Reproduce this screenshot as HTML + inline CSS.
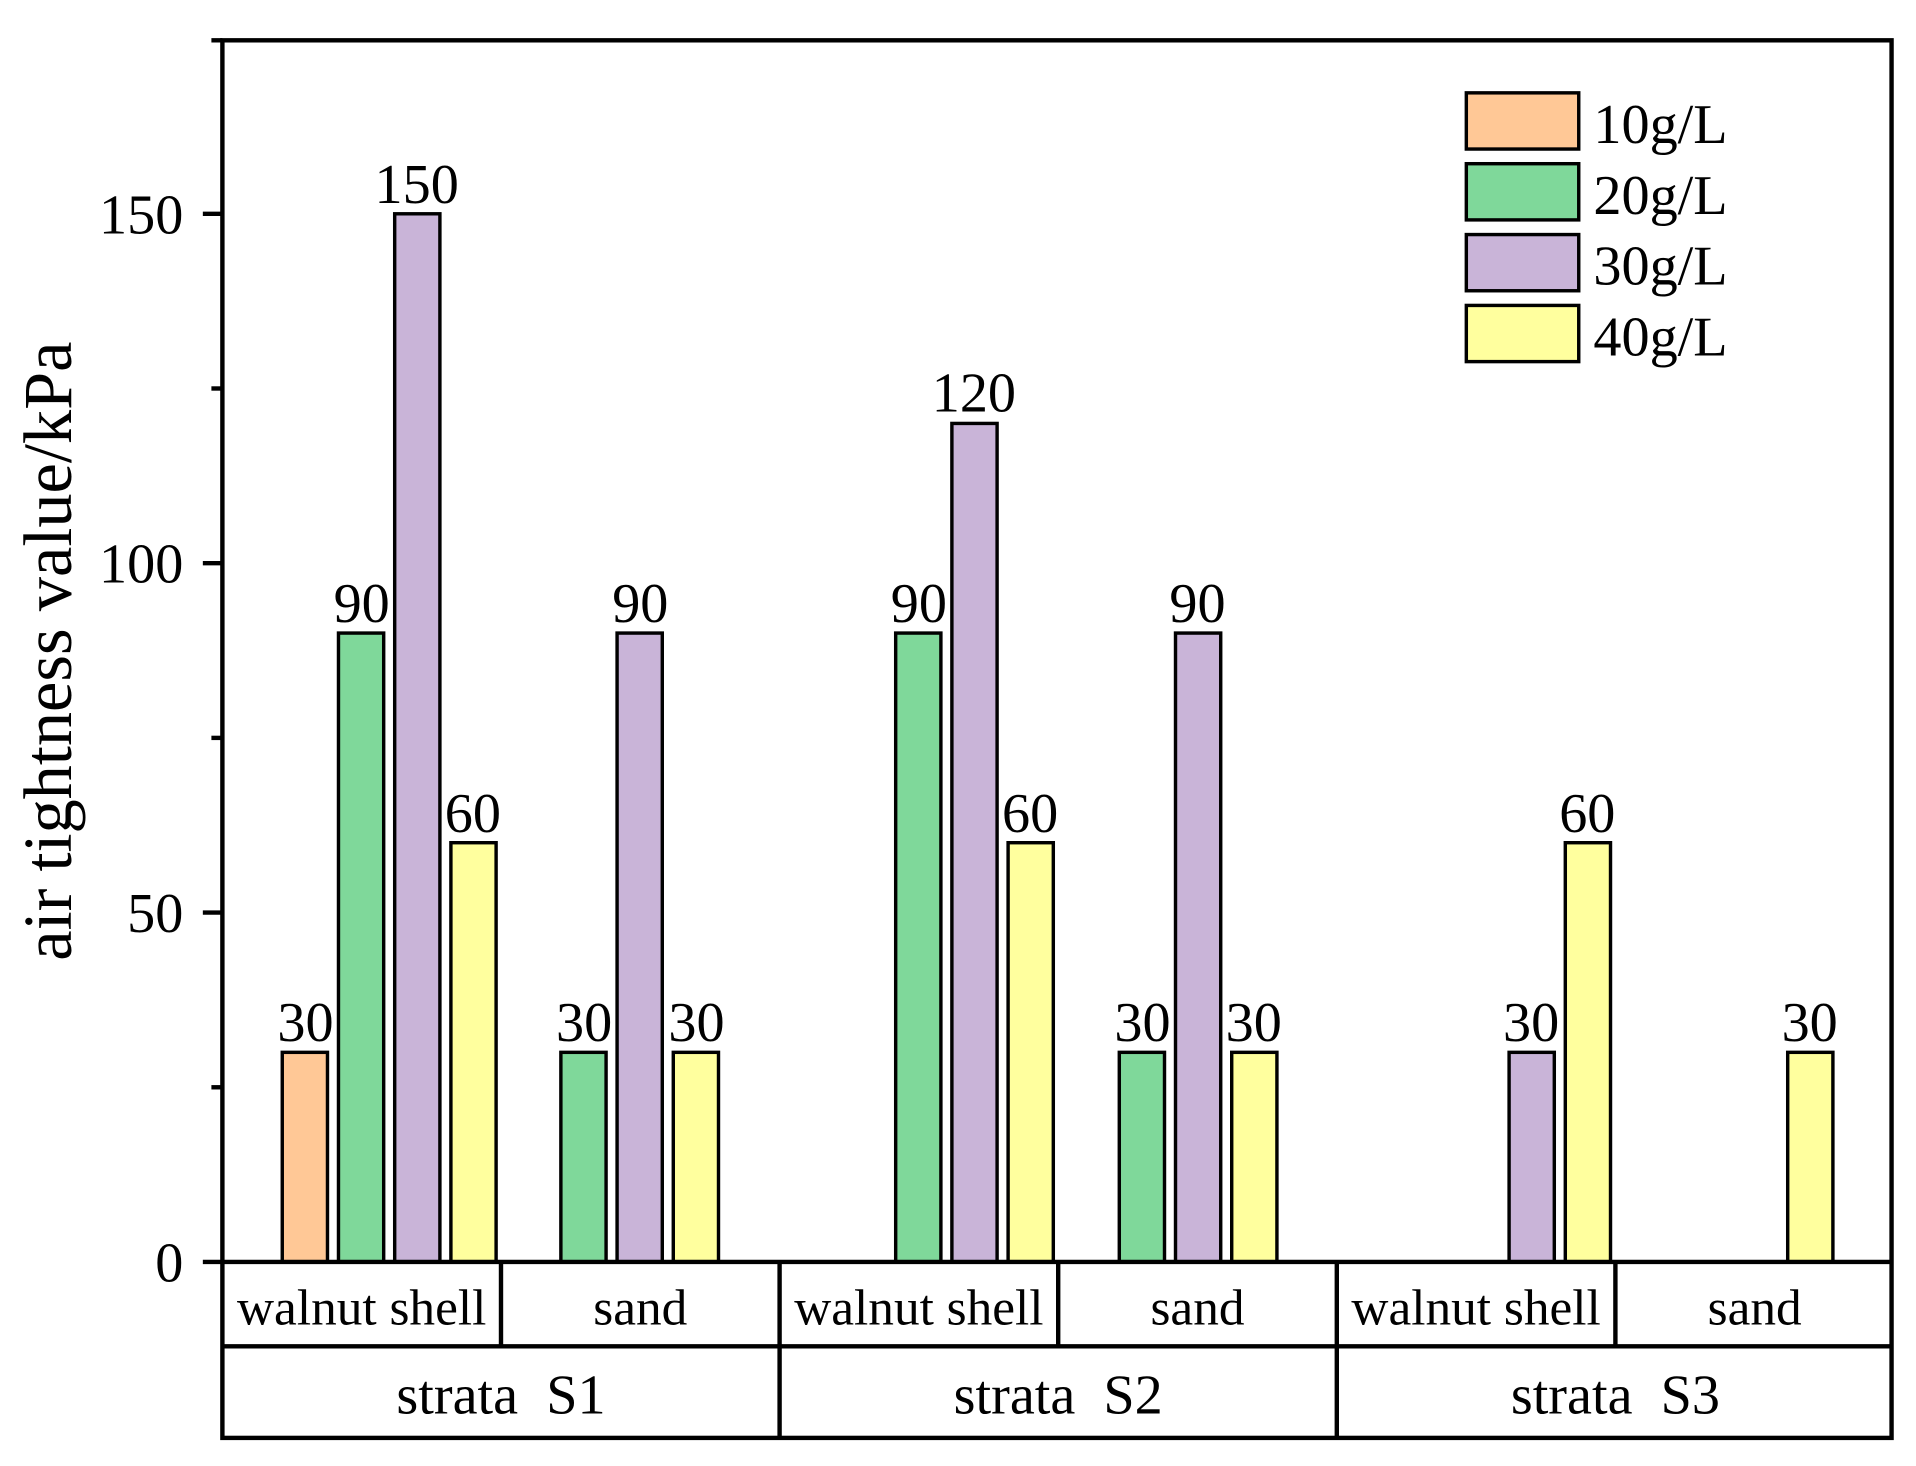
<!DOCTYPE html>
<html><head><meta charset="utf-8"><style>html,body{margin:0;padding:0;background:#fff}svg{display:block}</style></head><body>
<svg width="1916" height="1466" viewBox="0 0 1568 1200" preserveAspectRatio="none" xmlns="http://www.w3.org/2000/svg" font-family="Liberation Serif, serif">
<rect x="0" y="0" width="1568" height="1200" fill="#fff"/>
<g stroke="#000" stroke-width="2.8">
<rect x="231" y="861.4" width="37" height="171.6" fill="#FFC896"/>
<rect x="277" y="518.2" width="37" height="514.8" fill="#7FD89A"/>
<rect x="323" y="175" width="37" height="858" fill="#C9B4D8"/>
<rect x="369" y="689.8" width="37" height="343.2" fill="#FFFF9E"/>
<rect x="459" y="861.4" width="37" height="171.6" fill="#7FD89A"/>
<rect x="505" y="518.2" width="37" height="514.8" fill="#C9B4D8"/>
<rect x="551" y="861.4" width="37" height="171.6" fill="#FFFF9E"/>
<rect x="733" y="518.2" width="37" height="514.8" fill="#7FD89A"/>
<rect x="779" y="346.6" width="37" height="686.4" fill="#C9B4D8"/>
<rect x="825" y="689.8" width="37" height="343.2" fill="#FFFF9E"/>
<rect x="916" y="861.4" width="37" height="171.6" fill="#7FD89A"/>
<rect x="962" y="518.2" width="37" height="514.8" fill="#C9B4D8"/>
<rect x="1008" y="861.4" width="37" height="171.6" fill="#FFFF9E"/>
<rect x="1235" y="861.4" width="37" height="171.6" fill="#C9B4D8"/>
<rect x="1281" y="689.8" width="37" height="343.2" fill="#FFFF9E"/>
<rect x="1463" y="861.4" width="37" height="171.6" fill="#FFFF9E"/>
<rect x="1200" y="76" width="92" height="46" fill="#FFC896"/>
<rect x="1200" y="134" width="92" height="46" fill="#7FD89A"/>
<rect x="1200" y="192" width="92" height="46" fill="#C9B4D8"/>
<rect x="1200" y="250" width="92" height="46" fill="#FFFF9E"/>
</g>
<g stroke="#000" stroke-width="3.6" fill="none">
<rect x="182" y="33" width="1366" height="1144"/>
<line x1="182" y1="1033" x2="1548" y2="1033"/>
<line x1="182" y1="1102" x2="1548" y2="1102"/>
<line x1="410" y1="1033" x2="410" y2="1102"/>
<line x1="638" y1="1033" x2="638" y2="1177"/>
<line x1="866" y1="1033" x2="866" y2="1102"/>
<line x1="1094" y1="1033" x2="1094" y2="1177"/>
<line x1="1322" y1="1033" x2="1322" y2="1102"/>
<line x1="166" y1="1033" x2="182" y2="1033"/>
<line x1="166" y1="747" x2="182" y2="747"/>
<line x1="166" y1="461" x2="182" y2="461"/>
<line x1="166" y1="175" x2="182" y2="175"/>
<line x1="173" y1="890" x2="182" y2="890"/>
<line x1="173" y1="604" x2="182" y2="604"/>
<line x1="173" y1="318" x2="182" y2="318"/>
<line x1="173" y1="33" x2="182" y2="33"/>
</g>
<g font-size="46" fill="#000" text-anchor="end">
<text x="150" y="1049">0</text>
<text x="150" y="763">50</text>
<text x="150" y="477">100</text>
<text x="150" y="191">150</text>
</g>
<g font-size="46" fill="#000" text-anchor="middle">
<text x="250" y="852">30</text>
<text x="296" y="509">90</text>
<text x="341" y="166">150</text>
<text x="387" y="681">60</text>
<text x="478" y="852">30</text>
<text x="524" y="509">90</text>
<text x="570" y="852">30</text>
<text x="752" y="509">90</text>
<text x="797" y="337">120</text>
<text x="843" y="681">60</text>
<text x="935" y="852">30</text>
<text x="980" y="509">90</text>
<text x="1026" y="852">30</text>
<text x="1253" y="852">30</text>
<text x="1299" y="681">60</text>
<text x="1481" y="852">30</text>
<text x="296" y="1084" font-size="42">walnut shell</text>
<text x="524" y="1084" font-size="42">sand</text>
<text x="752" y="1084" font-size="42">walnut shell</text>
<text x="980" y="1084" font-size="42">sand</text>
<text x="1208" y="1084" font-size="42">walnut shell</text>
<text x="1436" y="1084" font-size="42">sand</text>
<text x="410" y="1157" font-size="46" xml:space="preserve">strata  S1</text>
<text x="866" y="1157" font-size="46" xml:space="preserve">strata  S2</text>
<text x="1322" y="1157" font-size="46" xml:space="preserve">strata  S3</text>
</g>
<g font-size="46" fill="#000">
<text x="1304" y="117">10g/L</text>
<text x="1304" y="175">20g/L</text>
<text x="1304" y="233">30g/L</text>
<text x="1304" y="291">40g/L</text>
</g>
<text transform="translate(58,533) rotate(-90)" font-size="56" text-anchor="middle" fill="#000">air tightness value/kPa</text>
</svg>
</body></html>
